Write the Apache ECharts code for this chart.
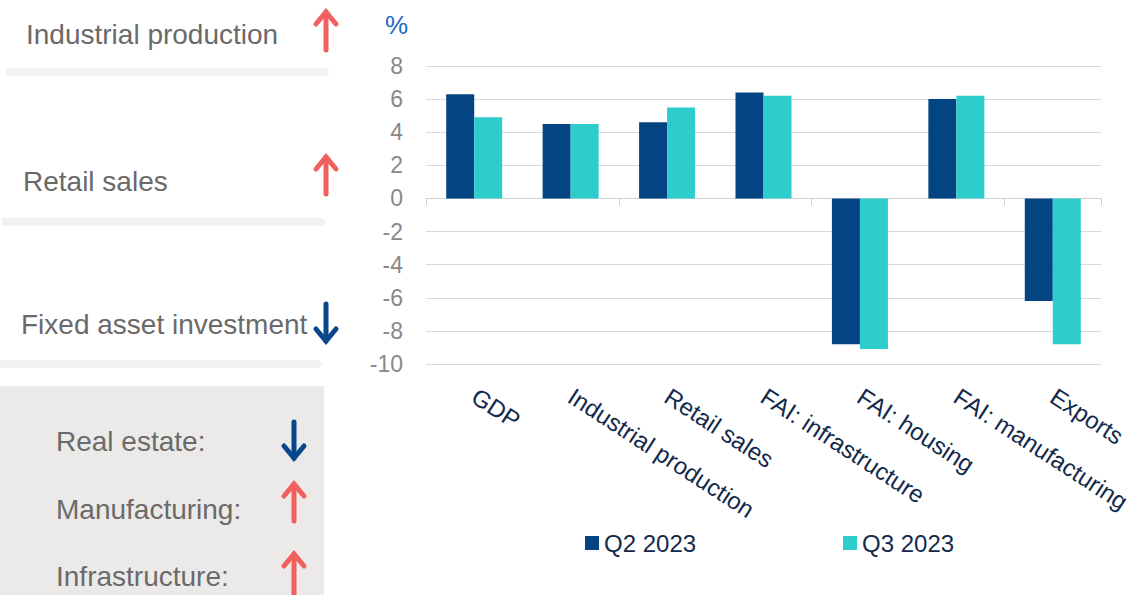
<!DOCTYPE html>
<html>
<head>
<meta charset="utf-8">
<script src="https://cdn.jsdelivr.net/npm/echarts@6/dist/echarts.min.js"></script>
<style>
  html, body { margin: 0; padding: 0; background: #ffffff; }
  #chart { width: 1138px; height: 595px; }
</style>
</head>
<body>
<div id="chart"></div>
<script>
// Growth indicators, % year on year
const categories = ['GDP', 'Industrial production', 'Retail sales', 'FAI: infrastructure',
                    'FAI: housing', 'FAI: manufacturing', 'Exports'];
const seriesNames = ['Q2 2023', 'Q3 2023'];
const q2Values = [6.3, 4.5, 4.6, 6.4, -8.8, 6.0, -6.2];
const q3Values = [4.9, 4.5, 5.5, 6.2, -9.1, 6.2, -8.8];

// Side panel: headline indicators and FAI breakdown with their direction
const sideLabels = ['Industrial production', 'Retail sales', 'Fixed asset investment'];
const sideTrends = ['up', 'up', 'down'];
const faiLabels = ['Real estate:', 'Manufacturing:', 'Infrastructure:'];
const faiTrends = ['down', 'up', 'up'];

const FONT = '"Liberation Sans", Arial, Helvetica, sans-serif';
const UP_COLOR = '#f0605f';
const DOWN_COLOR = '#07478a';
const PANEL_TEXT = '#6a6a6a';
const NAVY_TEXT = '#13294b';

function arrow(cx, top, bottom, dir) {
  const color = dir === 'up' ? UP_COLOR : DOWN_COLOR;
  const style = { stroke: color, lineWidth: 5, lineCap: 'round', lineJoin: 'miter', fill: null };
  let head;
  if (dir === 'up') {
    head = [[cx - 10, top + 15], [cx, top + 3], [cx + 10, top + 15]];
  } else {
    head = [[cx - 10, bottom - 15], [cx, bottom - 3], [cx + 10, bottom - 15]];
  }
  return {
    type: 'group',
    children: [
      { type: 'line', shape: { x1: cx, y1: top + 3, x2: cx, y2: bottom - 3 }, style: style },
      { type: 'polyline', shape: { points: head }, style: style }
    ]
  };
}

function panelText(text, x, y) {
  return {
    type: 'text',
    style: {
      text: text, x: x, y: y, fill: PANEL_TEXT,
      font: '28px ' + FONT, textVerticalAlign: 'middle', verticalAlign: 'middle'
    }
  };
}

function separator(x0, x1, y) {
  return {
    type: 'polygon',
    shape: { points: [[x0, y], [x1 - 4, y], [x1, y + 4], [x1 - 4, y + 8], [x0, y + 8]] },
    style: { fill: '#f2f2f2' }
  };
}

const sideY = [34, 181, 324];
const sideX = [26, 23, 21];
const sideArrowSpan = [[9, 53], [154, 197], [301, 344]];
const faiY = [441, 509, 576];
const faiArrowSpan = [[419, 461], [481, 524], [551, 600]];

const graphics = [
  separator(6, 330, 68),
  separator(2, 326, 218),
  separator(0, 323, 360),
  { type: 'rect', shape: { x: 0, y: 386, width: 324, height: 209 }, style: { fill: '#ebeae8' } }
];
sideLabels.forEach(function (t, i) {
  graphics.push(panelText(t, sideX[i], sideY[i]));
  graphics.push(arrow(326, sideArrowSpan[i][0], sideArrowSpan[i][1], sideTrends[i]));
});
faiLabels.forEach(function (t, i) {
  graphics.push(panelText(t, 56, faiY[i]));
  graphics.push(arrow(294, faiArrowSpan[i][0], faiArrowSpan[i][1], faiTrends[i]));
});

const chart = echarts.init(document.getElementById('chart'), null, { renderer: 'svg' });

const legendBase = {
  top: 531, padding: 0, icon: 'rect', itemWidth: 14, itemHeight: 14,
  textStyle: { color: NAVY_TEXT, fontSize: 24, fontFamily: FONT }
};

chart.setOption({
  backgroundColor: '#ffffff',
  animation: false,
  textStyle: { fontFamily: FONT },
  graphic: graphics,
  legend: [
    Object.assign({ data: [seriesNames[0]], left: 585 }, legendBase),
    Object.assign({ data: [seriesNames[1]], left: 843 }, legendBase)
  ],
  grid: { left: 426, right: 37, top: 66, bottom: 231, outerBoundsMode: 'none' },
  xAxis: [
    {
      // zero line with boundary ticks
      type: 'category', data: categories, position: 'bottom',
      axisLine: { onZero: true, lineStyle: { color: '#d0d0d0', width: 1 } },
      axisTick: { show: true, length: 7, lineStyle: { color: '#d0d0d0' } },
      axisLabel: { show: false },
      splitLine: { show: false }
    },
    {
      // slanted category captions beneath the plot area
      type: 'category', data: categories, position: 'bottom',
      axisLine: { show: false, onZero: false }, axisTick: { show: false }, splitLine: { show: false },
      axisLabel: {
        interval: 0, rotate: -33, margin: 30, color: NAVY_TEXT, fontSize: 24, fontFamily: FONT,
        hideOverlap: false
      }
    }
  ],
  yAxis: {
    type: 'value', min: -10, max: 8, interval: 2,
    name: '%', nameLocation: 'end', nameGap: 28,
    nameTextStyle: { color: '#1b6ac6', fontSize: 26, fontFamily: FONT, align: 'right', padding: [0, 18, 0, 0] },
    axisLine: { show: false }, axisTick: { show: false },
    axisLabel: { color: '#898989', fontSize: 23, margin: 23, fontFamily: FONT },
    splitLine: { show: true, lineStyle: { color: '#d9d9d9', width: 1 } }
  },
  series: [
    {
      name: seriesNames[0], type: 'bar', xAxisIndex: 0, data: q2Values,
      barWidth: 28, barGap: '0%', itemStyle: { color: '#034582' }
    },
    {
      name: seriesNames[1], type: 'bar', xAxisIndex: 0, data: q3Values,
      barWidth: 28, barGap: '0%', itemStyle: { color: '#2dcdcd' }
    }
  ]
});
</script>
</body>
</html>
